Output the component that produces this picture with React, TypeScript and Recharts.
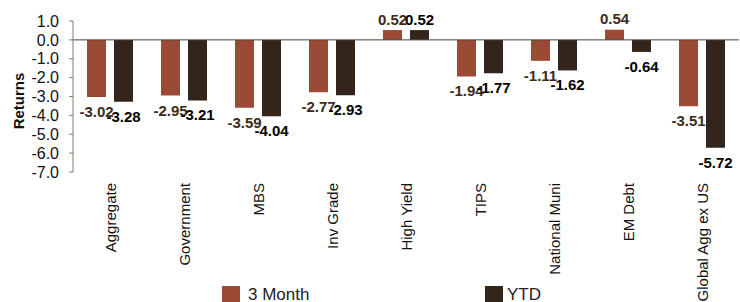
import { BarChart, Bar, XAxis, YAxis, LabelList, ReferenceLine } from "recharts";

const categories = ["Aggregate", "Government", "MBS", "Inv Grade", "High Yield", "TIPS", "National Muni", "EM Debt", "Global Agg ex US"];
const threeMonth = [-3.02, -2.95, -3.59, -2.77, 0.52, -1.94, -1.11, 0.54, -3.51];
const ytd = [-3.28, -3.21, -4.04, -2.93, 0.52, -1.77, -1.62, -0.64, -5.72];
const yTicks = [1, 0, -1, -2, -3, -4, -5, -6, -7];

const COLOR_3M = "#9b4a35";
const COLOR_YTD = "#33251b";
const FONT = "'Liberation Sans', Arial, sans-serif";

const data = categories.map((name, i) => ({ name, m3: threeMonth[i], ytd: ytd[i] }));

function makeLabel(color: string) {
  return (props: any) => {
    const { x, y, width, height, value } = props;
    const top = Math.min(y, y + height);
    const bottom = Math.max(y, y + height);
    const cx = x + width / 2;
    const ty = value < 0 ? bottom + 14.5 : top - 11;
    return (
      <text x={cx} y={ty} textAnchor="middle" dominantBaseline="central" fontFamily={FONT} fontWeight="bold" fontSize={15} fill={color}>
        {value.toFixed(2)}
      </text>
    );
  };
}

function CategoryTick(props: any) {
  const { x, payload } = props;
  return (
    <text x={x} y={183} transform={`rotate(-90, ${x}, 183)`} textAnchor="end" dominantBaseline="central" fontFamily={FONT} fontSize={15} fill="#111">
      {payload.value}
    </text>
  );
}

function ReturnsLabel() {
  return (
    <text x={18} y={101} transform="rotate(-90, 18, 101)" textAnchor="middle" dominantBaseline="central" fontFamily={FONT} fontWeight="bold" fontSize={15} fill="#111">
      Returns
    </text>
  );
}

export default function App() {
  return (
    <div style={{ position: "absolute", left: 0, top: 0, width: 740, height: 302, overflow: "hidden", background: "#fff" }}>
      <BarChart width={740} height={302} data={data} margin={{ top: 21, right: 1, bottom: 0, left: 0 }} barSize={19} barGap={8}>
        <XAxis dataKey="name" height={130} axisLine={false} tickLine={false} interval={0} tick={<CategoryTick />} />
        <YAxis
          width={73}
          domain={[-7, 1]}
          ticks={yTicks}
          interval={0}
          tickFormatter={(v: number) => v.toFixed(1)}
          tick={{ fontFamily: FONT, fontSize: 16, fill: "#111" }}
          tickSize={4}
          tickMargin={10}
          axisLine={{ stroke: "#8a7a6a" }}
          tickLine={{ stroke: "#8a7a6a" }}
          label={<ReturnsLabel />}
        />
        <ReferenceLine y={0} stroke="#4a4038" strokeWidth={1} />
        <Bar dataKey="m3" fill={COLOR_3M} isAnimationActive={false}>
          <LabelList dataKey="m3" content={makeLabel("#3d2a1a")} />
        </Bar>
        <Bar dataKey="ytd" fill={COLOR_YTD} isAnimationActive={false}>
          <LabelList dataKey="ytd" content={makeLabel("#000")} />
        </Bar>
      </BarChart>
      <div style={{ position: "absolute", left: 222, top: 285, display: "flex", alignItems: "center", fontFamily: FONT, fontSize: 17, color: "#222" }}>
        <span style={{ width: 18, height: 18, background: COLOR_3M, marginRight: 8, display: "inline-block" }} />
        3 Month
      </div>
      <div style={{ position: "absolute", left: 485, top: 285, display: "flex", alignItems: "center", fontFamily: FONT, fontSize: 17, color: "#222" }}>
        <span style={{ width: 18, height: 18, background: COLOR_YTD, marginRight: 4, display: "inline-block" }} />
        YTD
      </div>
    </div>
  );
}
